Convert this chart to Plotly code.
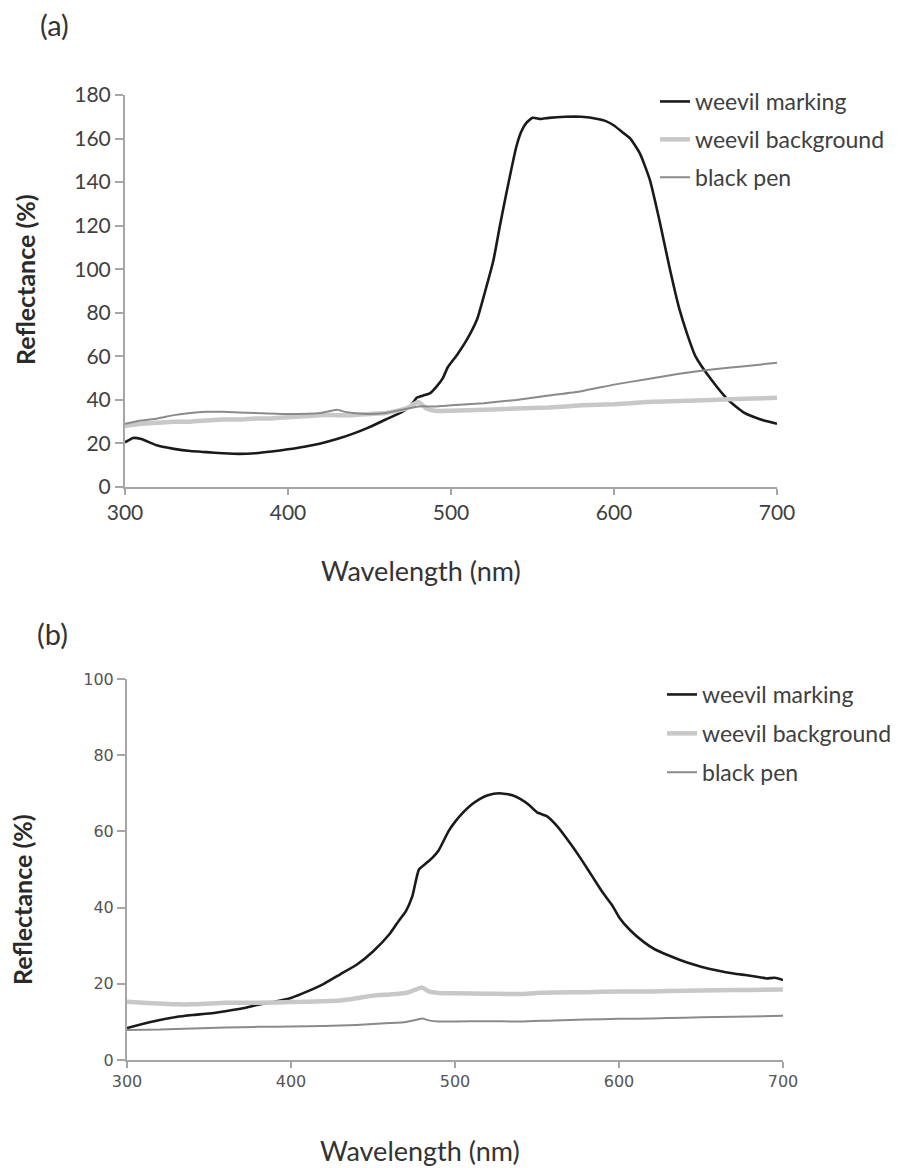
import plotly.graph_objects as go

# ---------------- Panel (a) data ----------------
a_mark_x = [300,305,310,320,330,340,350,360,370,380,390,400,410,420,430,440,450,460,470,475,
            479,483,487,491,495,498,504,510,516,521,526,530,534,540,543,546,550,555,560,570,
            580,590,595,600,605,610,616,622,628,634,640,645,650,660,670,680,690,700]
a_mark_y = [20.5,22.5,22,19,17.5,16.5,16,15.5,15.2,15.5,16.3,17.3,18.5,20,22,24.5,27.5,31,34.5,37,
            41,42,43,46,50,55,61,68,77,90,104,120,135,156,163,167,169.5,169,169.5,170,
            170,169,168,166,163,160,153,141,122,101,82,70,60,49,40,34,31,29]

a_bg_x = [300,310,320,330,340,350,360,370,380,390,400,410,420,430,440,450,460,470,475,480,
          485,490,500,520,540,560,580,600,620,640,660,680,700]
a_bg_y = [28,29,29.5,30,30,30.5,31,31,31.5,31.5,32,32.5,33,33,33,33.5,34,35.5,37,39,
          36,35,35,35.5,36,36.5,37.5,38,39,39.5,40,40.5,41]

a_pen_x = [300,310,320,330,340,350,360,380,400,420,430,435,440,450,460,470,480,490,500,520,
           540,560,580,600,620,640,660,680,700]
a_pen_y = [29,30.5,31.5,33,34,34.5,34.5,34,33.5,34,35.5,34.5,34,33.5,34,35.5,37,37,37.5,38.5,
           40,42,44,47,49.5,52,54,55.5,57]

# ---------------- Panel (b) data ----------------
b_mark_x = [300,310,320,330,340,350,360,370,380,390,400,410,420,430,440,450,460,466,470,474,
            478,482,486,490,496,500,505,510,515,520,527,535,540,545,550,556,562,570,578,584,
            590,596,600,607,615,622,630,642,650,660,670,677,685,690,695,700]
b_mark_y = [8.4,9.5,10.5,11.3,11.8,12.2,12.8,13.5,14.5,15.3,16.3,18,20,22.5,25,28.5,33,36.7,39,43,
            50,51.5,53,55,60,62.5,65,67,68.5,69.5,70,69.5,68.5,67,65,64,61.5,57,52,48,
            44,40.5,37.5,34,31,29,27.5,25.5,24.5,23.5,22.7,22.3,21.8,21.4,21.6,21]

b_bg_x = [300,310,320,330,340,350,360,380,400,420,430,440,450,460,470,476,480,484,490,500,
          520,540,550,560,580,600,620,640,660,680,700]
b_bg_y = [15.3,15,14.8,14.6,14.6,14.8,15,15,15.2,15.4,15.6,16.2,16.9,17.2,17.6,18.5,19,18,17.6,17.5,
          17.4,17.3,17.6,17.7,17.8,18,18,18.2,18.3,18.4,18.5]

b_pen_x = [300,320,340,360,380,400,420,440,460,470,476,480,484,490,500,520,540,560,580,600,
           620,640,660,680,700]
b_pen_y = [7.9,8,8.3,8.5,8.7,8.8,8.9,9.2,9.7,10,10.5,10.9,10.4,10.1,10.1,10.2,10.1,10.4,10.6,10.8,
           10.9,11.1,11.3,11.4,11.6]

series_names = ["weevil marking", "weevil background", "black pen"]
a_ticks_y = [0, 20, 40, 60, 80, 100, 120, 140, 160, 180]
b_ticks_y = [0, 20, 40, 60, 80, 100]
x_ticks = [300, 400, 500, 600, 700]

styles = [dict(color="#1a1a1a", width=2.6, shape="spline", smoothing=0.5),
          dict(color="#c8c8c8", width=4.5, shape="spline", smoothing=0.5),
          dict(color="#8a8a8a", width=2, shape="spline", smoothing=0.5)]

W, H = 900, 1168
OFF = 8  # page body margin offset
def px(xp): return (xp - OFF) / W
def py(yp): return 1 - (yp - OFF) / H

fig = go.Figure()
for (xs, ys), name, st in zip([(a_mark_x, a_mark_y), (a_bg_x, a_bg_y), (a_pen_x, a_pen_y)], series_names, styles):
    fig.add_trace(go.Scatter(x=xs, y=ys, mode="lines", name=name, line=st,
                             xaxis="x", yaxis="y", legend="legend", legendgroup="a" + name))
for (xs, ys), name, st in zip([(b_mark_x, b_mark_y), (b_bg_x, b_bg_y), (b_pen_x, b_pen_y)], series_names, styles):
    fig.add_trace(go.Scatter(x=xs, y=ys, mode="lines", name=name, line=st,
                             xaxis="x2", yaxis="y2", legend="legend2", legendgroup="b" + name))

axcommon = dict(showgrid=False, zeroline=False, showline=True, linecolor="#a6a6a6", linewidth=2,
                ticks="outside", tickcolor="#a6a6a6", tickwidth=1.5, automargin=False)
fontA = dict(family="Lato, sans-serif", size=21, color="#404040")
fontB = dict(family="'DejaVu Sans', sans-serif", size=16, color="#555555")
legfont = dict(family="Lato, sans-serif", size=23, color="#404040")

fig.update_layout(
    template="none",
    width=W, height=H, autosize=False,
    margin=dict(l=0, r=0, t=0, b=0, pad=0, autoexpand=False),
    paper_bgcolor="white", plot_bgcolor="white",
    xaxis=dict(domain=[px(125), px(777)], range=[300, 700], tickvals=x_ticks, anchor="y",
               ticklen=6, tickfont=fontA, **axcommon),
    yaxis=dict(domain=[py(487), py(95)], range=[0, 180], tickvals=a_ticks_y, anchor="x",
               ticklen=8, tickfont=fontA, **axcommon),
    xaxis2=dict(domain=[px(127), px(783)], range=[300, 700], tickvals=x_ticks, anchor="y2",
                ticklen=6, tickfont=fontB, **axcommon),
    yaxis2=dict(domain=[py(1060), py(679)], range=[0, 100], tickvals=b_ticks_y, anchor="x2",
                ticklen=8, tickfont=fontB, **axcommon),
    legend=dict(x=px(655), y=py(80), xanchor="left", yanchor="top", bgcolor="rgba(0,0,0,0)",
                font=legfont, tracegroupgap=5, itemwidth=30, borderwidth=0),
    legend2=dict(x=px(662), y=py(673), xanchor="left", yanchor="top", bgcolor="rgba(0,0,0,0)",
                 font=legfont, tracegroupgap=6, itemwidth=30, borderwidth=0),
    showlegend=True,
)

def note(text, x, y, size, color="#333333", angle=0):
    fig.add_annotation(text=text, x=px(x), y=py(y), xref="paper", yref="paper", showarrow=False,
                       xanchor="center", yanchor="middle", textangle=angle,
                       font=dict(family="Lato, sans-serif", size=size, color=color))

note("(a)", 54, 24, 29)
note("(b)", 52, 633, 29)
note("Wavelength (nm)", 421, 570, 27)
note("Wavelength (nm)", 420, 1150, 27)
note("<b>Reflectance (%)</b>", 25, 280, 25, "#2a2a2a", -90)
note("<b>Reflectance (%)</b>", 22, 900, 25, "#2a2a2a", -90)

fig.write_html("out.html")
